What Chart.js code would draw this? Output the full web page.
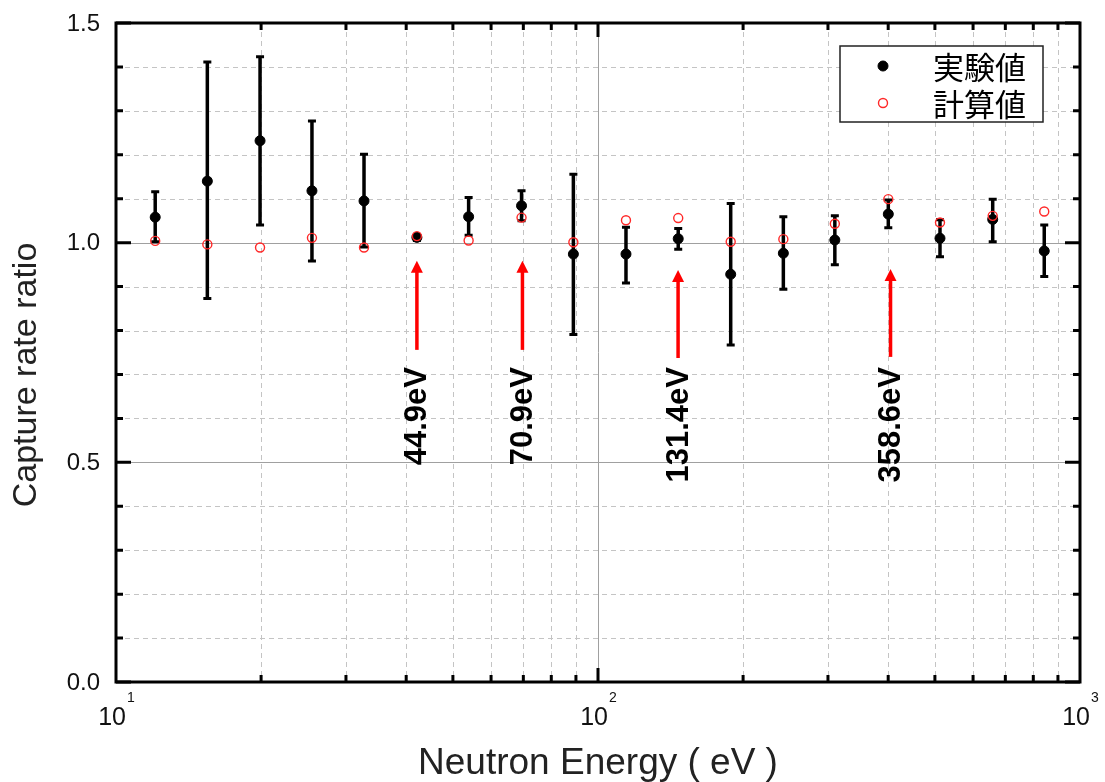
<!DOCTYPE html>
<html lang="ja">
<head>
<meta charset="UTF-8">
<title>Capture rate ratio</title>
<style>
  body { margin: 0; background: #fff; }
  canvas { display: block; }
</style>
</head>
<body>
<canvas id="myChart" width="1105" height="782"></canvas>

<script src="https://cdn.jsdelivr.net/npm/chart.js@4.4.1/dist/chart.umd.min.js"></script>
<script>
// データ
const energy    = [12.06, 15.47, 19.9, 25.5, 32.7, 42.1, 53.9, 69.4, 88.9, 114.3, 146.7, 188.5, 242.4, 310, 400.2, 512.3, 659, 843];
const expValue  = [1.058, 1.140, 1.232, 1.118, 1.095, 1.012, 1.059, 1.084, 0.974, 0.974, 1.009, 0.928, 0.976, 1.006, 1.065, 1.010, 1.053, 0.981];
const expUpper  = [1.116, 1.411, 1.423, 1.277, 1.201, 1.017, 1.103, 1.118, 1.156, 1.035, 1.032, 1.089, 1.059, 1.061, 1.097, 1.052, 1.099, 1.040];
const expLower  = [1.002, 0.873, 1.040, 0.958, 0.990, 1.005, 1.017, 1.050, 0.791, 0.908, 0.985, 0.767, 0.894, 0.950, 1.034, 0.968, 1.002, 0.923];
const calcValue = [1.004, 0.996, 0.989, 1.011, 0.989, 1.015, 1.005, 1.057, 1.001, 1.051, 1.056, 1.002, 1.008, 1.043, 1.099, 1.046, 1.061, 1.071];

// 共鳴エネルギーの矢印
const arrowEnergy = [42.1, 69.7, 146.6, 404.5];
const arrowLabels = ['44.9eV', '70.9eV', '131.4eV', '358.6eV'];
const arrowHead   = [0.959, 0.959, 0.938, 0.940];
const arrowTail   = [0.756, 0.756, 0.7375, 0.740];
const arrowLabelTop = 0.717;

// 軸目盛り・軸名
const xTickValues = [10, 100, 1000];
const xTickBase   = ['10', '10', '10'];
const xTickExp    = ['1', '2', '3'];
const yMajor = [0, 0.5, 1.0, 1.5];
const yTitle = 'Capture rate ratio';
const xTitle = 'Neutron Energy ( eV )';

const FONT = '"Liberation Sans", Arial, sans-serif';

function f_minorX(){
    var v_arr = [];
    for (var d = 10; d < 1000; d *= 10){
        for (var m = 2; m <= 9; m++) v_arr.push(m * d);
    }
    return v_arr;
}
function f_minorY(){
    var v_arr = [];
    for (var k = 1; k < 15; k++) if (k % 5 != 0) v_arr.push(k / 10);
    return v_arr;
}

const framePlugin = {
    id: 'frame',
    beforeDatasetsDraw(chart){
        const ctx = chart.ctx, a = chart.chartArea;
        const xs = chart.scales.x, ys = chart.scales.y;
        ctx.save();
        // 補助グリッド（破線）
        ctx.strokeStyle = '#c4c4c4';
        ctx.lineWidth = 1;
        ctx.setLineDash([5, 4]);
        f_minorX().forEach(function(v){
            var px = Math.round(xs.getPixelForValue(v)) + 0.5;
            ctx.beginPath(); ctx.moveTo(px, a.top); ctx.lineTo(px, a.bottom); ctx.stroke();
        });
        f_minorY().forEach(function(v){
            var py = Math.round(ys.getPixelForValue(v)) + 0.5;
            ctx.beginPath(); ctx.moveTo(a.left, py); ctx.lineTo(a.right, py); ctx.stroke();
        });
        // 主グリッド
        ctx.setLineDash([]);
        ctx.strokeStyle = '#a0a0a0';
        [0.5, 1.0].forEach(function(v){
            var py = Math.round(ys.getPixelForValue(v)) + 0.5;
            ctx.beginPath(); ctx.moveTo(a.left, py); ctx.lineTo(a.right, py); ctx.stroke();
        });
        var p100 = Math.round(xs.getPixelForValue(100)) + 0.5;
        ctx.beginPath(); ctx.moveTo(p100, a.top); ctx.lineTo(p100, a.bottom); ctx.stroke();

        // 誤差棒
        ctx.strokeStyle = '#000';
        for (var i = 0; i < energy.length; i++){
            var px = xs.getPixelForValue(energy[i]);
            var pt = ys.getPixelForValue(expUpper[i]);
            var pb = ys.getPixelForValue(expLower[i]);
            ctx.lineWidth = 3.5;
            ctx.beginPath(); ctx.moveTo(px, pt); ctx.lineTo(px, pb); ctx.stroke();
            ctx.lineWidth = 3;
            ctx.beginPath();
            ctx.moveTo(px - 4, pt); ctx.lineTo(px + 4, pt);
            ctx.moveTo(px - 4, pb); ctx.lineTo(px + 4, pb);
            ctx.stroke();
        }
        ctx.restore();
    },
    afterDatasetsDraw(chart){
        const ctx = chart.ctx, a = chart.chartArea;
        const xs = chart.scales.x, ys = chart.scales.y;
        ctx.save();

        // 枠
        ctx.strokeStyle = '#000';
        ctx.lineWidth = 3;
        ctx.strokeRect(a.left, a.top, a.right - a.left, a.bottom - a.top);

        // 内向き目盛り（四辺）
        ctx.lineWidth = 3;
        ctx.beginPath();
        f_minorX().concat([100]).forEach(function(v){
            var px = xs.getPixelForValue(v), len = (v == 100) ? 14 : 7;
            ctx.moveTo(px, a.bottom); ctx.lineTo(px, a.bottom - len);
            ctx.moveTo(px, a.top); ctx.lineTo(px, a.top + len);
        });
        f_minorY().concat(yMajor).forEach(function(v){
            var py = ys.getPixelForValue(v), len = (yMajor.indexOf(v) >= 0) ? 15 : 7;
            ctx.moveTo(a.left, py); ctx.lineTo(a.left + len, py);
            ctx.moveTo(a.right, py); ctx.lineTo(a.right - len, py);
        });
        ctx.stroke();

        // y軸ラベル
        ctx.fillStyle = '#111';
        ctx.font = '24px ' + FONT;
        ctx.textAlign = 'right';
        ctx.textBaseline = 'middle';
        yMajor.forEach(function(v){
            ctx.fillText(v.toFixed(1), a.left - 16, ys.getPixelForValue(v) + 1);
        });

        // x軸ラベル 10^n
        ctx.textBaseline = 'alphabetic';
        ctx.textAlign = 'left';
        xTickValues.forEach(function(v, i){
            var px = xs.getPixelForValue(v);
            ctx.font = '25px ' + FONT;
            var w1 = ctx.measureText(xTickBase[i]).width;
            ctx.font = '14px ' + FONT;
            var w2 = ctx.measureText(xTickExp[i]).width;
            var x0 = px - (w1 + w2) / 2;
            ctx.font = '25px ' + FONT;
            ctx.fillText(xTickBase[i], x0, a.bottom + 43);
            ctx.font = '14px ' + FONT;
            ctx.fillText(xTickExp[i], x0 + w1 + 1, a.bottom + 20);
        });

        // 軸名
        ctx.fillStyle = '#222';
        ctx.textAlign = 'center';
        ctx.textBaseline = 'middle';
        ctx.font = '37px ' + FONT;
        ctx.fillText(xTitle, (a.left + a.right) / 2, 764);
        ctx.save();
        ctx.translate(27, 375);
        ctx.rotate(-Math.PI / 2);
        ctx.font = '34px ' + FONT;
        ctx.fillText(yTitle, 0, 0);
        ctx.restore();

        // 矢印とラベル
        ctx.strokeStyle = '#ff0000';
        ctx.fillStyle = '#ff0000';
        for (var i = 0; i < arrowEnergy.length; i++){
            var px = xs.getPixelForValue(arrowEnergy[i]);
            var ph = ys.getPixelForValue(arrowHead[i]);
            var pt = ys.getPixelForValue(arrowTail[i]);
            ctx.lineWidth = 3.5;
            ctx.beginPath(); ctx.moveTo(px, pt); ctx.lineTo(px, ph + 10); ctx.stroke();
            ctx.beginPath();
            ctx.moveTo(px, ph); ctx.lineTo(px - 6, ph + 12); ctx.lineTo(px + 6, ph + 12);
            ctx.closePath(); ctx.fill();
        }
        ctx.fillStyle = '#000';
        ctx.font = 'bold 31px ' + FONT;
        ctx.textAlign = 'right';
        ctx.textBaseline = 'middle';
        for (var i = 0; i < arrowEnergy.length; i++){
            var px = xs.getPixelForValue(arrowEnergy[i]);
            ctx.save();
            ctx.translate(px + 1, ys.getPixelForValue(arrowLabelTop));
            ctx.rotate(-Math.PI / 2);
            ctx.fillText(arrowLabels[i], 0, 0);
            ctx.restore();
        }

        // 凡例
        var lx = 840, ly = 46, lw = 203, lh = 76;
        ctx.fillStyle = '#fff';
        ctx.fillRect(lx, ly, lw, lh);
        ctx.strokeStyle = '#222';
        ctx.lineWidth = 1.5;
        ctx.strokeRect(lx, ly, lw, lh);
        ctx.font = '31px "Noto Sans CJK JP", sans-serif';
        ctx.textAlign = 'left';
        chart.data.datasets.forEach(function(ds, i){
            var cy = ly + 20 + i * 37;
            ctx.beginPath();
            ctx.arc(lx + 43, cy, ds.pointRadius, 0, Math.PI * 2);
            if (ds.backgroundColor != 'transparent'){ ctx.fillStyle = ds.backgroundColor; ctx.fill(); }
            ctx.strokeStyle = ds.borderColor; ctx.lineWidth = ds.borderWidth; ctx.stroke();
            ctx.fillStyle = '#000';
            ctx.fillText(ds.label, lx + 93, cy + 1);
        });
        ctx.restore();
    }
};

const ctx = document.getElementById('myChart').getContext('2d');
const myChart = new Chart(ctx, {
    type: 'scatter',
    data: {
        datasets: [{
            label: '実験値',
            data: energy.map(function(e, i){ return {x: e, y: expValue[i]}; }),
            pointRadius: 5,
            backgroundColor: '#000',
            borderColor: '#000',
            borderWidth: 1,
            order: 1
        }, {
            label: '計算値',
            data: energy.map(function(e, i){ return {x: e, y: calcValue[i]}; }),
            pointRadius: 4.5,
            backgroundColor: 'transparent',
            borderColor: 'rgb(255,40,40)',
            borderWidth: 1.4,
            order: 0
        }]
    },
    options: {
        responsive: false,
        animation: false,
        devicePixelRatio: 1,
        layout: { padding: { top: 23, right: 25, left: 0, bottom: 0 } },
        plugins: { legend: { display: false }, tooltip: { enabled: false } },
        scales: {
            x: {
                type: 'logarithmic',
                min: 10, max: 1000,
                grid: { display: false, drawTicks: false },
                border: { display: false },
                ticks: { display: false },
                afterFit: function(s){ s.height = 100; s.paddingLeft = 0; s.paddingRight = 0; }
            },
            y: {
                min: 0, max: 1.5,
                grid: { display: false, drawTicks: false },
                border: { display: false },
                ticks: { display: false, stepSize: 0.5 },
                afterFit: function(s){ s.width = 116; s.paddingTop = 0; s.paddingBottom = 0; }
            }
        }
    },
    plugins: [framePlugin]
});
</script>
</body>
</html>
